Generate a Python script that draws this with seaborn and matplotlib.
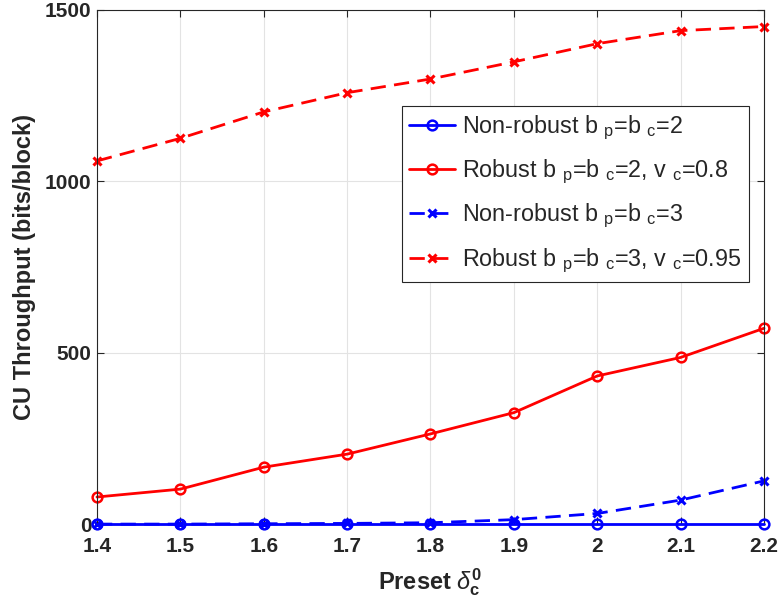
import matplotlib
matplotlib.use("Agg")
import matplotlib.pyplot as plt
import seaborn as sns

# preset delta values on the x axis
delta = [1.4, 1.5, 1.6, 1.7, 1.8, 1.9, 2.0, 2.1, 2.2]

nonrobust_b2 = [0, 0, 0, 0, 0, 0, 0, 0, 0]
robust_b2 = [79, 102, 166, 204, 263, 325, 432, 486, 571]
nonrobust_b3 = [0, 0, 1, 2, 4, 13, 31, 70, 126]
robust_b3 = [1059, 1125, 1202, 1258, 1298, 1348, 1401, 1439, 1451]

xtick_labels = ["1.4", "1.5", "1.6", "1.7", "1.8", "1.9", "2", "2.1", "2.2"]
ytick_vals = [0, 500, 1000, 1500]

sns.set_style("whitegrid")
plt.rcParams['font.family'] = ['Liberation Sans', 'DejaVu Sans']
plt.rcParams['mathtext.fontset'] = 'custom'
plt.rcParams['mathtext.rm'] = 'Liberation Sans'
plt.rcParams['mathtext.it'] = 'Liberation Sans:italic'
plt.rcParams['mathtext.bf'] = 'Liberation Sans:bold'

fig = plt.figure(figsize=(7.82, 6.08), dpi=100)
ax = fig.add_axes([0.124, 0.138, 0.853, 0.846])

lw = 2.0
dash = (0, (5.5, 3))
sns.lineplot(x=delta, y=nonrobust_b2, ax=ax, color='#0000ff', lw=lw, marker='o',
             ms=7, mfc='none', mec='#0000ff', mew=1.8, clip_on=False, zorder=3,
             label=r'Non-robust b $_{\mathrm{p}}$=b $_{\mathrm{c}}$=2')
sns.lineplot(x=delta, y=robust_b2, ax=ax, color='#ff0000', lw=lw, marker='o',
             ms=7, mfc='none', mec='#ff0000', mew=1.8, clip_on=False,
             label=r'Robust b $_{\mathrm{p}}$=b $_{\mathrm{c}}$=2, v $_{\mathrm{c}}$=0.8')
sns.lineplot(x=delta, y=nonrobust_b3, ax=ax, color='#0000ff', lw=lw, marker='x',
             ms=6, mec='#0000ff', mew=2.2, linestyle=dash, clip_on=False,
             label=r'Non-robust b $_{\mathrm{p}}$=b $_{\mathrm{c}}$=3')
sns.lineplot(x=delta, y=robust_b3, ax=ax, color='#ff0000', lw=lw, marker='x',
             ms=6, mec='#ff0000', mew=2.2, linestyle=dash, clip_on=False,
             label=r'Robust b $_{\mathrm{p}}$=b $_{\mathrm{c}}$=3, v $_{\mathrm{c}}$=0.95')

ax.set_xlim(1.4, 2.2)
ax.set_ylim(0, 1500)
ax.set_xticks(delta)
ax.set_xticklabels(xtick_labels)
ax.set_yticks(ytick_vals)

ax.grid(True, color='#e3e3e3', lw=0.8)
for s in ax.spines.values():
    s.set_color('#262626')
    s.set_linewidth(0.8)
    s.set_visible(True)
ax.tick_params(direction='in', length=5, width=0.8, color='#262626',
               labelsize=15, labelcolor='#262626', top=True, right=True,
               left=True, bottom=True)
ax.tick_params(axis='x', pad=9)
ax.tick_params(axis='y', pad=4)
for t in ax.get_xticklabels() + ax.get_yticklabels():
    t.set_fontweight('bold')

ax.set_xlabel(r'Preset $\delta_{\mathbf{c}}^{\mathbf{0}}$', fontsize=17,
              fontweight='bold', color='#262626', labelpad=8)
ax.set_ylabel('CU Throughput (bits/block)', fontsize=17, fontweight='bold',
              color='#262626', labelpad=6)

leg = ax.legend(loc='upper left', bbox_to_anchor=(0.457, 0.812), fontsize=16.8,
                frameon=True, fancybox=False, framealpha=1, edgecolor='#262626',
                handlelength=2.0, handletextpad=0.3, borderpad=0.3,
                labelspacing=0.68, borderaxespad=0)
leg.get_frame().set_linewidth(0.8)

fig.savefig("out.png", dpi=100)
